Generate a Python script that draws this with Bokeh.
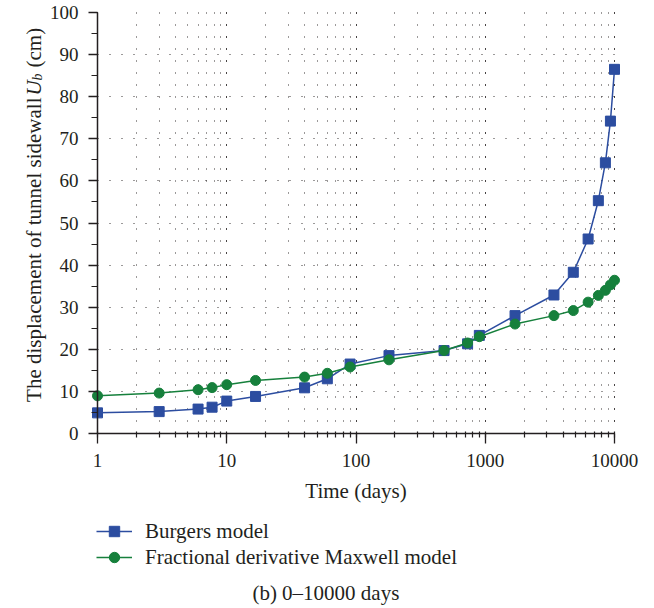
import math
from bokeh.plotting import figure
from bokeh.models import (Label, Legend, LegendItem, LogTicker, SingleIntervalTicker,
                          FixedTicker, NumeralTickFormatter, Range1d, Grid)
from bokeh.embed import file_html
from bokeh.resources import INLINE

# ---- data ----
days = [1, 3, 6, 7.7, 10, 16.7, 40, 60, 90, 180, 480, 730, 900, 1700,
        3400, 4800, 6250, 7500, 8500, 9300, 10000]
burgers = [4.9, 5.2, 5.8, 6.25, 7.7, 8.8, 10.85, 13.0, 16.5, 18.5, 19.7, 21.3,
           23.3, 28.0, 32.9, 38.3, 46.2, 55.3, 64.3, 74.2, 86.5]
fractional = [8.95, 9.6, 10.4, 10.9, 11.6, 12.6, 13.4, 14.3, 15.8, 17.5, 19.7,
              21.5, 23.0, 26.0, 28.0, 29.2, 31.2, 32.8, 34.0, 35.3, 36.4]
x_bounds = (1, 10000)
y_bounds = (0, 100)
y_grid_ticks = [10, 20, 30, 40, 50, 60, 70, 80, 90]
series_names = ["Burgers model", "Fractional derivative Maxwell model"]
x_title = "Time (days)"
y_title_main = "The displacement of tunnel sidewall"
y_title_sym = "U"
y_title_sub = "b"
y_title_unit = "(cm)"
caption = "(b)  0\u201310000 days"

BLUE = "#2c4da0"
GREEN = "#16803c"
INK = "#231f20"
FONT = "Liberation Serif"

# ---- layout: the frame fills the whole canvas, axes sit at fixed locations ----
W, H = 654, 608
AX_LEFT, AX_RIGHT, AX_TOP, AX_BOTTOM = 97, 614, 12, 433   # pixel box of the axes
px_decade = (AX_RIGHT - AX_LEFT) / math.log10(x_bounds[1] / x_bounds[0])
px_unit = (AX_BOTTOM - AX_TOP) / (y_bounds[1] - y_bounds[0])
x_range = Range1d(x_bounds[0] * 10 ** (-AX_LEFT / px_decade),
                  x_bounds[1] * 10 ** ((W - AX_RIGHT) / px_decade))
y_range = Range1d(y_bounds[0] - (H - AX_BOTTOM) / px_unit,
                  y_bounds[1] + AX_TOP / px_unit)

p = figure(width=W, height=H, x_axis_type="log", x_range=x_range, y_range=y_range,
           output_backend="svg", toolbar_location=None,
           min_border_left=0, min_border_right=0, min_border_top=0, min_border_bottom=0)
p.outline_line_color = None
p.background_fill_color = "white"
p.border_fill_color = "white"

# axes
xax = p.xaxis[0]
yax = p.yaxis[0]
xax.fixed_location = y_bounds[0]
yax.fixed_location = x_bounds[0]
xax.bounds = x_bounds
yax.bounds = y_bounds
xax.ticker = LogTicker(mantissas=[1], num_minor_ticks=10)
xax.formatter = NumeralTickFormatter(format="0")
yax.ticker = SingleIntervalTicker(interval=10, num_minor_ticks=2)
for ax in (xax, yax):
    ax.axis_line_color = INK
    ax.axis_line_width = 1.5
    ax.major_tick_line_color = INK
    ax.minor_tick_line_color = INK
    ax.major_tick_line_width = 1.3
    ax.minor_tick_line_width = 1.2
    ax.major_label_text_font = FONT
    ax.major_label_text_font_size = "19px"
    ax.major_label_text_color = INK
xax.major_tick_in = 0
xax.major_tick_out = 10
xax.minor_tick_in = 2
xax.minor_tick_out = 4
xax.major_label_standoff = 10
xax.axis_label = x_title
xax.axis_label_text_font = FONT
xax.axis_label_text_font_size = "21px"
xax.axis_label_text_font_style = "normal"
xax.axis_label_text_color = INK
xax.axis_label_standoff = 9

yax.major_tick_in = 0
yax.major_tick_out = 9
yax.minor_tick_in = 0
yax.minor_tick_out = 6
yax.major_label_standoff = 10

# dotted grids, limited to the axes box
grid_style = dict(line_color=INK, line_dash="1 11", line_width=1, line_alpha=0.9)
if "cross_bounds" in Grid.properties():
    for g in (p.xgrid, p.ygrid):
        g.grid_line_color = INK
        g.grid_line_dash = "1 11"
        g.grid_line_width = 1
        g.grid_line_alpha = 0.9
    p.xgrid.minor_grid_line_color = INK
    p.xgrid.minor_grid_line_dash = "1 11"
    p.xgrid.minor_grid_line_width = 1
    p.xgrid.minor_grid_line_alpha = 0.9
    p.xgrid.bounds = x_bounds
    p.xgrid.cross_bounds = y_bounds
    p.ygrid.ticker = FixedTicker(ticks=y_grid_ticks)
    p.ygrid.bounds = y_bounds
    p.ygrid.cross_bounds = x_bounds
else:
    p.xgrid.visible = False
    p.ygrid.visible = False
    decades = range(int(math.log10(x_bounds[0])), int(math.log10(x_bounds[1])))
    xg = [m * 10 ** d for d in decades for m in range(1, 10)][1:]
    p.segment(x0=xg, y0=[y_bounds[0]] * len(xg), x1=xg, y1=[y_bounds[1]] * len(xg),
              **grid_style)
    p.segment(x0=[x_bounds[0]] * len(y_grid_ticks), y0=y_grid_ticks,
              x1=[x_bounds[1]] * len(y_grid_ticks), y1=y_grid_ticks, **grid_style)

# series
l1 = p.line(days, burgers, line_color=BLUE, line_width=1.5)
s1 = p.scatter(days, burgers, marker="square", size=10, fill_color=BLUE, line_color=BLUE)
l2 = p.line(days, fractional, line_color=GREEN, line_width=1.5)
s2 = p.scatter(days, fractional, marker="circle", size=10, fill_color=GREEN, line_color=GREEN)

# legend below the axes (inside the full-canvas frame)
legend = Legend(items=[LegendItem(label=series_names[0], renderers=[l1, s1]),
                       LegendItem(label=series_names[1], renderers=[l2, s2])],
                location=(96, 38), orientation="vertical",
                border_line_color=None, background_fill_alpha=0,
                padding=0, margin=0, spacing=0,
                glyph_width=36, glyph_height=26, label_height=26,
                label_standoff=13, label_text_font=FONT,
                label_text_font_size="21px", label_text_color=INK)
p.add_layout(legend)

# caption
p.add_layout(Label(x=328, y=16, x_units="screen", y_units="screen", text=caption,
                   text_align="center", text_baseline="middle", text_font=FONT,
                   text_font_size="21px", text_color=INK))

# y title with italic U and subscript b
common = dict(x_units="screen", y_units="screen", angle=math.pi / 2,
              text_font=FONT, text_color=INK, text_baseline="alphabetic")
p.add_layout(Label(x=33, y=H - 97, text=y_title_main, text_align="right",
                   text_font_size="21px", **common))
p.add_layout(Label(x=33, y=H - 95, text=y_title_sym, text_align="left",
                   text_font_size="21px", text_font_style="italic", **common))
p.add_layout(Label(x=37, y=H - 80, text=y_title_sub, text_align="left",
                   text_font_size="14px", text_font_style="italic", **common))
p.add_layout(Label(x=33, y=H - 67, text=y_title_unit, text_align="left",
                   text_font_size="21px", **common))

open("out.html", "w").write(file_html(p, INLINE))
